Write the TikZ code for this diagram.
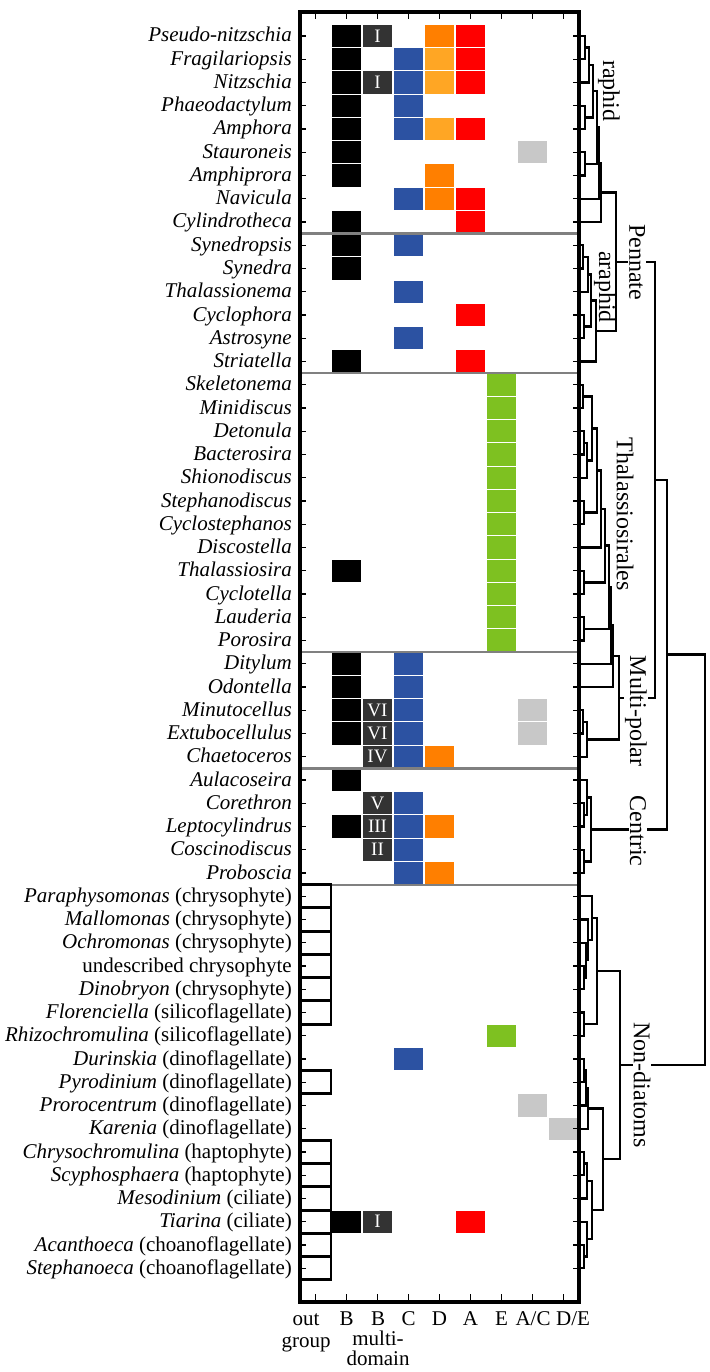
\documentclass[tikz,border=0pt]{standalone}
\usepackage{fontspec}
\setmainfont{Liberation Serif}
\definecolor{cblue}{RGB}{44,82,162}
\definecolor{corange}{RGB}{255,127,0}
\definecolor{clorange}{RGB}{255,166,36}
\definecolor{cred}{RGB}{255,0,0}
\definecolor{cgreen}{RGB}{126,193,33}
\definecolor{clgray}{RGB}{200,200,200}
\definecolor{cdark}{RGB}{51,51,51}
\definecolor{csep}{RGB}{128,128,128}
\newcommand\rowy[1]{36+(#1-1)*23.25}
\newcommand\cellat[3]{\node[cellbox,fill=#3] (cell#1x#2) at ({315.5+31*(#1-1)},{\rowy{#2}}) {};}
\newcommand\romcell[2]{\node[cellbox,fill=cdark,text=white,font=\fontsize{19}{19}\selectfont] (rom#1) at (377.5,{\rowy{#1}}) {#2};}
\newcommand\outat[1]{\node[outbox] (out#1) at (315.5,{\rowy{#1}}) {};}
\newcommand\jn[5]{\coordinate (#1) at (#2,#3); \draw[tree] (#4) -| (#1) (#5) -| (#1);}
\begin{document}
\begin{tikzpicture}[x=1pt,y=-1pt,
  cellbox/.style={draw=white,line width=1.2pt,minimum width=31pt,minimum height=23.25pt,inner sep=0pt,outer sep=0pt},
  outbox/.style={draw=black,fill=white,line width=2.8pt,minimum width=31pt,minimum height=23.25pt,inner sep=0pt,outer sep=0pt},
  rowlab/.style={anchor=base east,font=\fontsize{21}{21}\selectfont,inner sep=0pt},
  botlab/.style={anchor=base,font=\fontsize{21}{21}\selectfont,inner sep=0pt},
  clade/.style={rotate=-90,font=\fontsize{24}{24}\selectfont,inner sep=1pt},
  sepline/.style={draw=csep,line width=2.2pt},
  tick/.style={draw=black,line width=1.3pt},
  frameline/.style={draw=black,line width=3.2pt},
  tree/.style={draw=black,line width=2.4pt}]
\useasboundingbox (0,0) rectangle (709,1372);
% ---------- cells ----------
% col: 2=B 3=Bmulti 4=C 5=D 6=A 7=E 8=A/C 9=D/E
\foreach \r in {1,2,3,4,5,6,7,9,10,11,15,24,28,29,30,31,33,35,52} {\cellat{2}{\r}{black}}
\foreach \r in {2,3,4,5,8,10,12,14,28,29,30,31,32,34,35,36,37,45} {\cellat{4}{\r}{cblue}}
\foreach \r in {1,7,8,32,35,37} {\cellat{5}{\r}{corange}}
\foreach \r in {2,3,5} {\cellat{5}{\r}{clorange}}
\foreach \r in {1,2,3,5,8,9,13,15,52} {\cellat{6}{\r}{cred}}
\foreach \r in {16,...,27,44} {\cellat{7}{\r}{cgreen}}
\foreach \r in {6,30,31,47} {\cellat{8}{\r}{clgray}}
\cellat{9}{48}{clgray}
\romcell{1}{I}
\romcell{3}{I}
\romcell{30}{VI}
\romcell{31}{VI}
\romcell{32}{IV}
\romcell{34}{V}
\romcell{35}{III}
\romcell{36}{II}
\romcell{52}{I}
% ---------- separators ----------
\foreach \s in {233.6,373.1,652.1,768.4,884.6} {\draw[sepline] (300,\s) -- (579,\s);}
% ---------- outgroup ----------
\foreach \r in {38,39,40,41,42,43,46,49,50,51,52,53,54} {\outat{\r}}
% ---------- ticks and frame ----------
\foreach \i in {1,...,54} {
  \draw[tick] (300,{\rowy{\i}}) -- (306,{\rowy{\i}});
  \draw[tick] (573,{\rowy{\i}}) -- (579,{\rowy{\i}});
}
\foreach \k in {1,...,9} {
  \draw[tick] ({315.5+31*(\k-1)},12) -- ++(0,7);
  \draw[tick] ({315.5+31*(\k-1)},1302) -- ++(0,-8);
}
\draw[frameline] (300,12) rectangle (579,1302);
% ---------- dendrogram ----------
\foreach \i in {1,...,54} {\coordinate (L\i) at (579,{\rowy{\i}});}
% raphid
\jn{n1}{585}{47.625}{L1}{L2}
\jn{n2}{589}{65.06}{n1}{L3}
\jn{n3}{585}{117.375}{L4}{L5}
\jn{n4}{593}{91.22}{n2}{n3}
\jn{n5}{585}{163.875}{L6}{L7}
\jn{n6}{597}{127.55}{n4}{n5}
\jn{n7}{599}{163.15}{n6}{L8}
\jn{n8}{601}{192.58}{n7}{L9}
% araphid
\jn{a1}{583}{256.875}{L10}{L11}
\jn{a2}{588}{274.31}{a1}{L12}
\jn{a3}{584}{326.625}{L13}{L14}
\jn{a4}{591}{300.47}{a2}{a3}
\jn{a5}{596}{330.98}{a4}{L15}
\jn{P}{616}{261.78}{n8}{a5}
% Thalassiosirales and multi-polar
\jn{t1}{583}{396.375}{L16}{L17}
\jn{t2}{584}{442.875}{L18}{L19}
\jn{t3}{587}{460.31}{t2}{L20}
\jn{t4}{592}{428.34}{t1}{t3}
\jn{t5}{584}{512.625}{L21}{L22}
\jn{u1}{597}{470.48}{t4}{t5}
\jn{u2}{601}{508.99}{u1}{L23}
\jn{t8}{584}{582.375}{L24}{L25}
\jn{u3}{605}{545.68}{u2}{t8}
\jn{t9}{584}{628.875}{L26}{L27}
\jn{u4}{609}{587.28}{u3}{t9}
\jn{u5}{611}{625.51}{u4}{L28}
\jn{u6}{613}{656.26}{u5}{L29}
\jn{v1}{583}{721.875}{L30}{L31}
\jn{v2}{587}{739.31}{v1}{L32}
\jn{M}{619}{697.79}{u6}{v2}
\jn{G}{655}{479.78}{P}{M}
% centric
\jn{c1}{584}{814.875}{L34}{L35}
\jn{c2}{587}{797.44}{L33}{c1}
\jn{c3}{584}{861.375}{L36}{L37}
\jn{C}{591}{829.41}{c2}{c3}
\jn{D}{667}{654.6}{G}{C}
% non-diatoms
\jn{d1}{584}{977.625}{L41}{L42}
\jn{d2}{586}{960.19}{L40}{d1}
\jn{d3}{588}{939.84}{L39}{d2}
\jn{d4}{592}{918.05}{L38}{d3}
\jn{d5}{584}{1024.125}{L43}{L44}
\jn{d6}{597}{971.09}{d4}{d5}
\jn{e1}{584}{1070.625}{L45}{L46}
\jn{e2}{586}{1088.06}{e1}{L47}
\jn{e3}{588}{1108.41}{e2}{L48}
\jn{f1}{584}{1163.625}{L49}{L50}
\jn{f2}{587}{1181.06}{f1}{L51}
\jn{f3}{584}{1256.625}{L53}{L54}
\jn{f4}{587}{1239.19}{L52}{f3}
\jn{f5}{592}{1210.13}{f2}{f4}
\jn{g}{603}{1159.27}{e3}{f5}
\jn{ND}{620}{1065.18}{d6}{g}
\jn{R}{705}{859.89}{D}{ND}
% ---------- clade labels ----------
\node[clade] (lraphid) at (609,91) {raphid};
\node[clade] (laraphid) at (605,287) {araphid};
\node[clade,fill=white] (lpennate) at (637,262) {Pennate};
\node[clade] (lthal) at (625,514) {Thalassiosirales};
\node[clade,fill=white] (lmulti) at (636,711) {Multi-polar};
\node[clade,fill=white] (lcentric) at (638,831) {Centric};
\node[clade,fill=white] (lnond) at (642,1085) {Non-diatoms};
% ---------- row labels ----------
\foreach \t [count=\i] in {
 {\textit{Pseudo-nitzschia}},{\textit{Fragilariopsis}},{\textit{Nitzschia}},{\textit{Phaeodactylum}},
 {\textit{Amphora}},{\textit{Stauroneis}},{\textit{Amphiprora}},{\textit{Navicula}},{\textit{Cylindrotheca}},
 {\textit{Synedropsis}},{\textit{Synedra}},{\textit{Thalassionema}},{\textit{Cyclophora}},{\textit{Astrosyne}},
 {\textit{Striatella}},{\textit{Skeletonema}},{\textit{Minidiscus}},{\textit{Detonula}},{\textit{Bacterosira}},
 {\textit{Shionodiscus}},{\textit{Stephanodiscus}},{\textit{Cyclostephanos}},{\textit{Discostella}},
 {\textit{Thalassiosira}},{\textit{Cyclotella}},{\textit{Lauderia}},{\textit{Porosira}},{\textit{Ditylum}},
 {\textit{Odontella}},{\textit{Minutocellus}},{\textit{Extubocellulus}},{\textit{Chaetoceros}},
 {\textit{Aulacoseira}},{\textit{Corethron}},{\textit{Leptocylindrus}},{\textit{Coscinodiscus}},
 {\textit{Proboscia}},
 {\textit{Paraphysomonas} (chrysophyte)},{\textit{Mallomonas} (chrysophyte)},{\textit{Ochromonas} (chrysophyte)},
 {undescribed chrysophyte},{\textit{Dinobryon} (chrysophyte)},{\textit{Florenciella} (silicoflagellate)},
 {\textit{Rhizochromulina} (silicoflagellate)},{\textit{Durinskia} (dinoflagellate)},
 {\textit{Pyrodinium} (dinoflagellate)},{\textit{Prorocentrum} (dinoflagellate)},{\textit{Karenia} (dinoflagellate)},
 {\textit{Chrysochromulina} (haptophyte)},{\textit{Scyphosphaera} (haptophyte)},{\textit{Mesodinium} (ciliate)},
 {\textit{Tiarina} (ciliate)},{\textit{Acanthoeca} (choanoflagellate)},{\textit{Stephanoeca} (choanoflagellate)}}
 {\node[rowlab] (lab\i) at (292,{\rowy{\i}+6}) {\t};}
% ---------- column labels ----------
\node[botlab] (bout) at (306,1325) {out};
\node[botlab] (bgroup) at (306,1347) {group};
\node[botlab] (bB) at (346.5,1325) {B};
\node[botlab] (bBm) at (378,1325) {B};
\node[botlab] (bmulti) at (378,1345) {multi-};
\node[botlab] (bdomain) at (378,1365) {domain};
\node[botlab] (bC) at (408.5,1325) {C};
\node[botlab] (bD) at (439.5,1325) {D};
\node[botlab] (bA) at (470.5,1325) {A};
\node[botlab] (bE) at (501.5,1325) {E};
\node[botlab] (bAC) at (533,1325) {A/C};
\node[botlab] (bDE) at (573,1325) {D/E};
\end{tikzpicture}
\end{document}
